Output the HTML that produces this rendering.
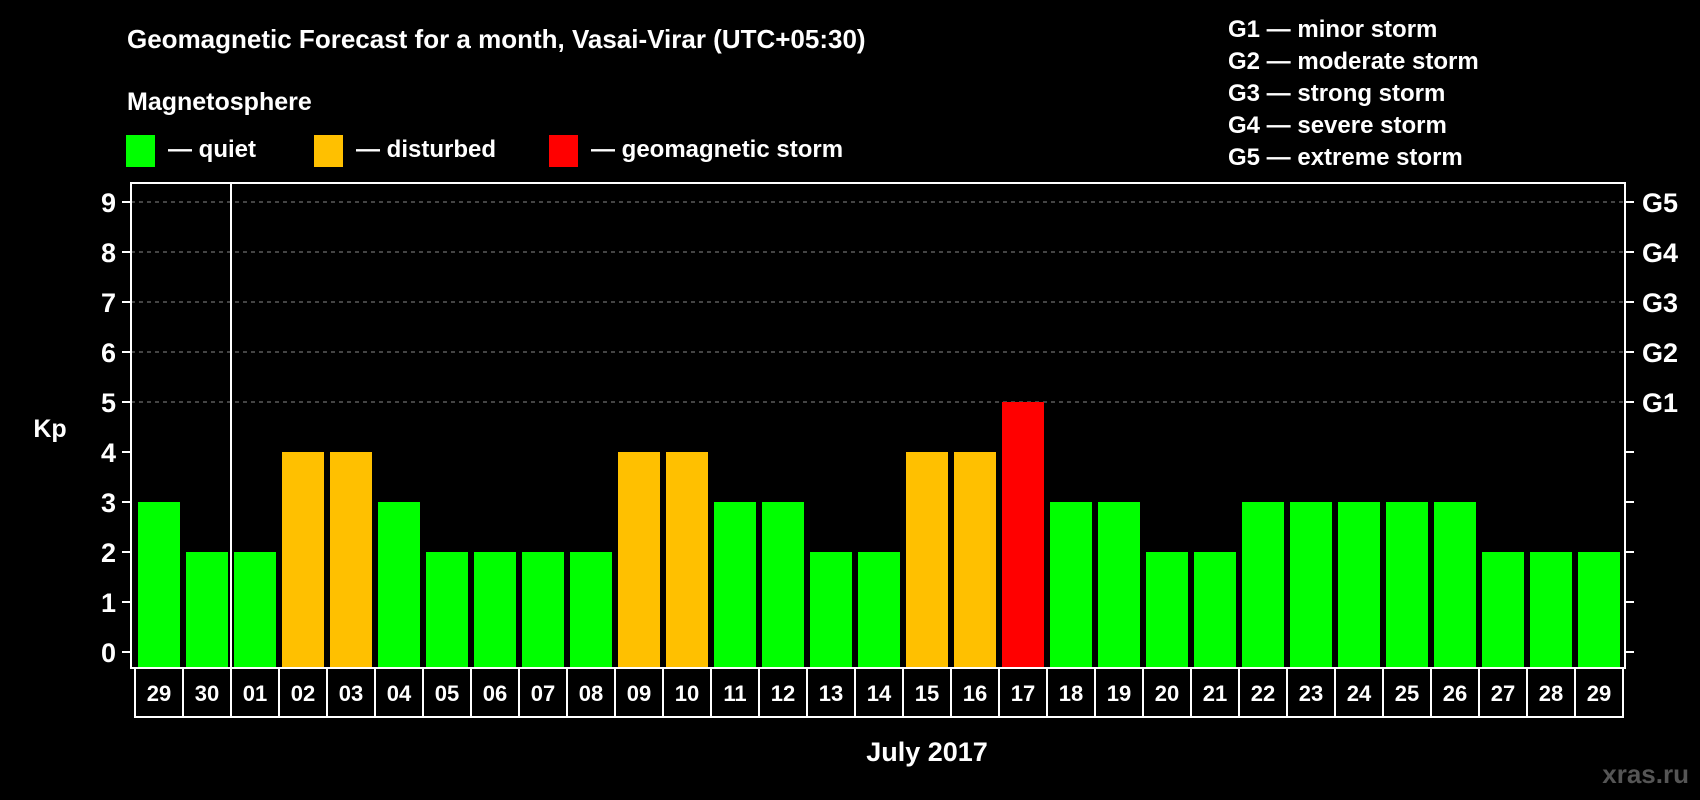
<!DOCTYPE html>
<html><head><meta charset="utf-8"><style>
html,body{margin:0;padding:0;background:#000;width:1700px;height:800px;overflow:hidden}
svg{display:block;font-family:"Liberation Sans",Arial,sans-serif;font-weight:bold}
</style></head><body>
<svg id="chart" width="1700" height="800" viewBox="0 0 1700 800">
<rect width="1700" height="800" fill="#000"/>
<text x="127" y="48" fill="#fff" font-size="26">Geomagnetic Forecast for a month, Vasai-Virar (UTC+05:30)</text>
<text x="127" y="110" fill="#fff" font-size="25">Magnetosphere</text>
<g><rect x="126" y="135" width="29" height="32" fill="#00ff00"/><text x="168" y="157" fill="#fff" font-size="24">— quiet</text></g>
<g><rect x="314" y="135" width="29" height="32" fill="#ffc000"/><text x="356" y="157" fill="#fff" font-size="24">— disturbed</text></g>
<g><rect x="549" y="135" width="29" height="32" fill="#ff0000"/><text x="591" y="157" fill="#fff" font-size="24">— geomagnetic storm</text></g>
<g fill="#fff" font-size="24">
<text x="1228" y="37">G1 — minor storm</text>
<text x="1228" y="69">G2 — moderate storm</text>
<text x="1228" y="101">G3 — strong storm</text>
<text x="1228" y="133">G4 — severe storm</text>
<text x="1228" y="165">G5 — extreme storm</text>
</g>
<g id="plot"></g>
<text x="50" y="437" fill="#fff" font-size="25" text-anchor="middle">Kp</text>
<text x="927" y="761" fill="#fff" font-size="27" text-anchor="middle">July 2017</text>
<text x="1689" y="783" fill="#555" font-size="26" text-anchor="end">xras.ru</text>
</svg>
<script>
const days = ["29","30","01","02","03","04","05","06","07","08","09","10","11","12","13","14","15","16","17","18","19","20","21","22","23","24","25","26","27","28","29"];
const kp = [3,2,2,4,4,3,2,2,2,2,4,4,3,3,2,2,4,4,5,3,3,2,2,3,3,3,3,3,2,2,2];
const yTicks = [0,1,2,3,4,5,6,7,8,9];
const gLabels = ["G1","G2","G3","G4","G5"];
const gLevels = [5,6,7,8,9];

const NS = "http://www.w3.org/2000/svg";
const L = 131, R = 1625, T = 183, B = 668;
const slot = 48, x0 = 135;
const y = v => 652 - v * 50;
const x = i => x0 + i * slot;
const plot = document.getElementById("plot");
function mk(tag, attrs, parent) {
  const e = document.createElementNS(NS, tag);
  for (const k in attrs) e.setAttribute(k, attrs[k]);
  (parent || plot).appendChild(e);
  return e;
}
// grid
gLevels.forEach(v => {
  const g = mk("line", {x1: L, x2: R, y1: y(v), y2: y(v), stroke: "#888", "stroke-width": 1, "stroke-dasharray": "4,4"});
  
  
});
// bars
kp.forEach((v, i) => {
  const c = v >= 5 ? "#ff0000" : v >= 4 ? "#ffc000" : "#00ff00";
  const b = mk("rect", {x: x(i) + 3, y: y(v), width: 42, height: B - y(v), fill: c});
  
  
});
// frame
const fr = mk("rect", {x: L, y: T, width: R - L, height: B - T, fill: "none", stroke: "#fff", "stroke-width": 2});


const dv = mk("line", {x1: x(2) - 0, x2: x(2), y1: T, y2: B, stroke: "#fff", "stroke-width": 2});


// y ticks
yTicks.forEach(v => {
  const t = mk("line", {x1: 122, x2: L, y1: y(v), y2: y(v), stroke: "#fff", "stroke-width": 2});
  
  
  const t2 = mk("line", {x1: R, x2: 1634, y1: y(v), y2: y(v), stroke: "#fff", "stroke-width": 2});
  
  
  const lb = mk("text", {x: 116, y: y(v) + 10, fill: "#fff", "font-size": 27, "text-anchor": "end"});
  lb.textContent = v;
  
  
});
gLabels.forEach((g, i) => {
  const lb = mk("text", {x: 1642, y: y(gLevels[i]) + 10, fill: "#fff", "font-size": 27});
  lb.textContent = g;
  
  
});
// date boxes
days.forEach((d, i) => {
  const r = mk("rect", {x: x(i), y: B, width: slot, height: 49, fill: "none", stroke: "#fff", "stroke-width": 2});
  
  
  const t = mk("text", {x: x(i) + slot / 2, y: 701, fill: "#fff", "font-size": 22, "text-anchor": "middle"});
  t.textContent = d;
  
  
});
</script>
</body></html>
